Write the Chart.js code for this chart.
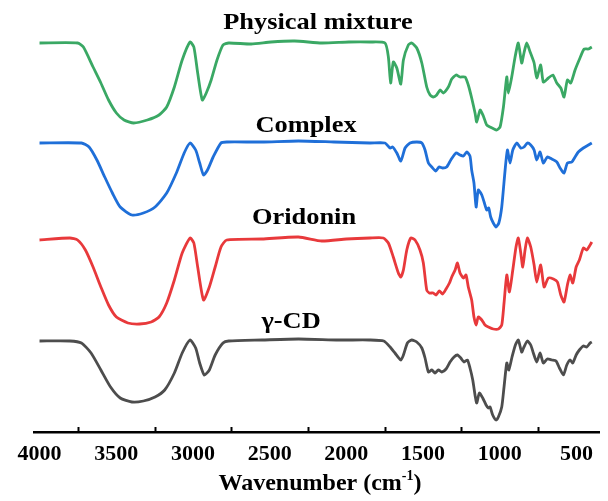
<!DOCTYPE html>
<html>
<head>
<meta charset="utf-8">
<script src="https://cdn.jsdelivr.net/npm/chart.js@4"></script>
<style>
  html, body { margin: 0; padding: 0; background: #fff; }
  #wrap { width: 608px; height: 501px; position: relative; }
</style>
</head>
<body>
<div id="wrap"><canvas id="ftirCanvas" width="608" height="501"></canvas></div>
<script>
// wavenumber (cm-1) and transmittance (a.u., stacked)
const mixWn = [4000,3752,3714,3651,3600,3550,3499,3449,3386,3297,3221,3171,3121,3070,3019,2994,2969,2939,2913,2881,2843,2804,2767,2620,2491,2337,2160,1984,1846,1748,1726,1711,1694,1671,1645,1628,1596,1574,1541,1508,1476,1454,1433,1411,1389,1368,1335,1313,1285,1259,1226,1205,1183,1161,1150,1128,1107,1085,1063,1037,1020,998,976,954,944,922,900,879,857,842,824,802,776,759,733,716,683,654,628,602,581,559,537,509,477,450,422,400];
const mixT  = [389,389,385,365,349,332,319,312,309,312,317,325,345,372,390,385,359,332,339,352,372,387,389,388,390,391,389,390,390,389,375,349,370,364,348,372,387,389,384,369,345,337,335,337,342,339,345,353,357,355,355,347,334,319,310,322,316,307,305,303,302,305,325,355,339,355,375,389,369,379,389,380,369,354,367,350,354,357,349,344,335,352,349,362,374,383,383,385];

const cpxWn = [4000,3727,3677,3626,3575,3525,3474,3398,3323,3247,3171,3108,3057,3019,2982,2956,2931,2905,2868,2817,2780,2550,2312,2080,1846,1748,1715,1698,1671,1645,1617,1585,1541,1508,1487,1465,1443,1417,1396,1372,1346,1319,1285,1259,1237,1215,1194,1183,1168,1154,1140,1117,1102,1085,1072,1059,1042,1024,1006,987,965,950,933,915,889,863,842,820,798,776,759,737,716,690,661,628,607,581,559,530,509,488,455,422,400];
const cpxT  = [289,289,285,272,255,239,225,217,219,225,239,259,279,289,282,269,257,262,275,289,290,290,291,290,289,289,284,285,279,271,284,289,290,289,282,269,265,261,265,264,265,272,279,277,276,280,276,262,249,225,242,237,230,222,224,215,209,205,209,225,262,282,269,282,289,284,285,289,287,282,272,280,269,275,273,270,264,259,269,270,275,280,284,287,289];

const oriWn = [4000,3802,3752,3701,3651,3600,3550,3499,3424,3348,3272,3221,3171,3121,3070,3019,2994,2969,2931,2893,2855,2817,2780,2550,2312,2160,2000,1846,1759,1726,1694,1661,1645,1628,1606,1580,1552,1520,1498,1476,1459,1433,1415,1394,1372,1350,1328,1313,1291,1276,1259,1237,1220,1205,1183,1168,1154,1140,1117,1096,1074,1042,1009,987,972,954,937,915,894,879,863,850,835,820,798,776,759,733,711,683,650,624,602,581,559,542,524,502,481,455,433,411,400];
const oriT  = [192,194,192,182,165,145,127,115,109,108,110,115,129,152,179,194,189,165,132,145,165,185,192,193,195,191,193,194,194,189,175,159,155,162,182,194,192,182,169,142,139,139,137,141,138,143,149,155,162,169,159,154,157,145,132,115,107,115,112,107,105,103,103,107,129,157,140,162,185,194,179,165,182,194,185,167,150,167,145,154,153,150,137,130,147,157,149,165,172,184,182,187,190];

const cdWn = [4000,3802,3727,3664,3600,3537,3474,3398,3323,3247,3184,3121,3070,3019,2982,2956,2926,2893,2855,2804,2767,2550,2312,2050,1850,1756,1715,1683,1645,1628,1602,1574,1541,1508,1487,1465,1443,1422,1400,1378,1350,1324,1298,1276,1254,1233,1211,1194,1176,1159,1150,1133,1111,1089,1074,1063,1046,1024,1009,987,972,954,941,920,898,879,857,842,820,798,781,759,737,716,690,661,633,611,585,563,542,524,502,481,455,433,411,400];
const cdT  = [91,91,89,79,62,45,34,30,31,35,42,59,79,92,84,69,57,62,77,89,91,92,93,92,92,91,85,79,72,77,89,92,90,84,74,60,62,59,62,60,63,70,75,77,74,70,72,64,52,35,29,39,34,27,24,25,17,12,15,25,45,69,62,75,87,92,80,85,91,87,79,70,79,69,73,72,71,64,57,67,72,69,77,82,86,85,89,90];

const seriesNames  = ['Physical mixture', 'Complex', 'Oridonin', '\u03b3-CD'];
const seriesColors = ['#3aa864', '#1f6fd8', '#e8393b', '#4d4d4d'];
const tickValues   = [4000, 3750, 3500, 3250, 3000, 2750, 2500, 2250, 2000, 1750, 1500, 1250, 1000, 750, 500];

function toPoints(wn, t) {
    return wn.map((w, i) => ({ x: w, y: t[i] }));
}

// curve labels: [wavenumber of centre, height above axis]
const labelPos = [[2185, 409], [2263, 306], [2276, 214], [2360, 110]];

const serif = '"Liberation Serif", "Times New Roman", serif';

const ftirDecor = {
    id: 'ftirDecor',
    afterDraw(chart) {
        const ctx = chart.ctx;
        const xs = chart.scales.x;
        const ys = chart.scales.y;
        const axisY = chart.chartArea.bottom;

        // inward ticks at the half-way positions
        ctx.save();
        ctx.strokeStyle = '#000';
        ctx.lineWidth = 2;
        tickValues.forEach(v => {
            if (v % 500 === 0) return;
            const px = Math.round(xs.getPixelForValue(v)) + 0.5;
            ctx.beginPath();
            ctx.moveTo(px, axisY);
            ctx.lineTo(px, axisY - 5);
            ctx.stroke();
        });

        // curve names
        ctx.fillStyle = '#000';
        ctx.textAlign = 'center';
        ctx.textBaseline = 'middle';
        ctx.font = 'bold 24px ' + serif;
        seriesNames.forEach((name, i) => {
            const cx = xs.getPixelForValue(labelPos[i][0]);
            const cy = ys.getPixelForValue(labelPos[i][1]);
            ctx.save();
            ctx.translate(cx, cy);
            ctx.scale(1.1, 1);
            ctx.fillText(name, 0, 0);
            ctx.restore();
        });

        // axis title with superscript
        const main = 'Wavenumber (cm';
        const sup = '-1';
        const tail = ')';
        ctx.textAlign = 'left';
        ctx.textBaseline = 'alphabetic';
        ctx.font = 'bold 24px ' + serif;
        const wMain = ctx.measureText(main).width;
        const wTail = ctx.measureText(tail).width;
        ctx.font = 'bold 14px ' + serif;
        const wSup = ctx.measureText(sup).width;
        const total = wMain + wSup + wTail;
        let tx = 320 - total / 2;
        const base = 490;
        ctx.font = 'bold 24px ' + serif;
        ctx.fillText(main, tx, base);
        tx += wMain;
        ctx.font = 'bold 14px ' + serif;
        ctx.fillText(sup, tx, base - 10);
        tx += wSup;
        ctx.font = 'bold 24px ' + serif;
        ctx.fillText(tail, tx, base);
        ctx.restore();
    }
};

const ctx = document.getElementById('ftirCanvas').getContext('2d');
const datasets = [
    toPoints(mixWn, mixT),
    toPoints(cpxWn, cpxT),
    toPoints(oriWn, oriT),
    toPoints(cdWn, cdT)
].map((pts, i) => ({
    label: seriesNames[i],
    data: pts,
    borderColor: seriesColors[i],
    borderWidth: 2.8,
    pointRadius: 0,
    tension: 0.2,
    fill: false
}));

new Chart(ctx, {
    type: 'line',
    data: { datasets },
    options: {
        responsive: false,
        animation: false,
        layout: { padding: { top: 32, left: 34, right: 9, bottom: 0 } },
        plugins: {
            legend: { display: false },
            tooltip: { enabled: false }
        },
        scales: {
            x: {
                type: 'linear',
                reverse: true,
                min: 353,
                max: 4036,
                afterBuildTicks: scale => {
                    scale.ticks = tickValues.map(v => ({ value: v }));
                },
                afterFit: scale => { scale.height = 69; },
                grid: { display: false, drawTicks: false },
                border: { display: true, color: '#000', width: 2.5 },
                ticks: {
                    autoSkip: false,
                    maxRotation: 0,
                    padding: 9,
                    color: '#000',
                    font: { family: serif, size: 22, weight: 'bold' },
                    callback: v => (v % 500 === 0 ? String(v) : '')
                }
            },
            y: {
                display: false,
                min: 0,
                max: 400
            }
        }
    },
    plugins: [ftirDecor]
});
</script>
</body>
</html>
